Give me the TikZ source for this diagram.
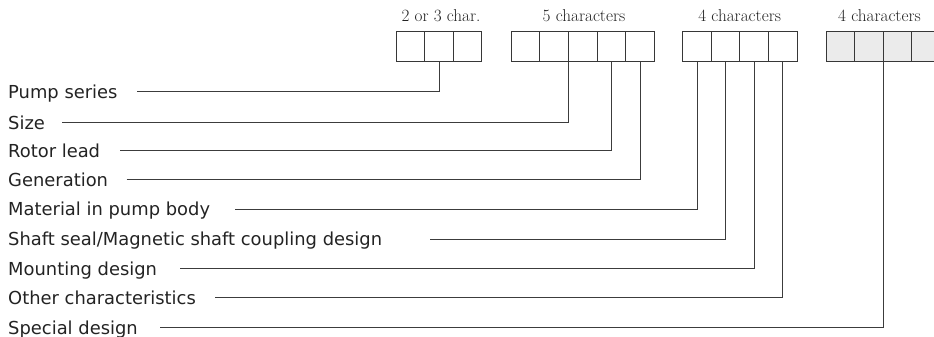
\documentclass[tikz,border=0pt]{standalone}
\usepackage{fontspec}
\newfontfamily\labfont{DejaVu Sans}
\definecolor{ink}{RGB}{35,35,35}
\definecolor{boxline}{RGB}{55,55,55}
\definecolor{wire}{RGB}{60,60,60}
\definecolor{shade}{RGB}{235,235,235}
\begin{document}
\begin{tikzpicture}[x=1pt,y=-1pt,
  cell/.style={draw=boxline,line width=0.9pt,minimum width=28.6pt,minimum height=30.7pt,inner sep=0pt,outer sep=0pt},
  grey/.style={cell,fill=shade},
  toplab/.style={anchor=base,inner sep=0pt,text=ink,font=\fontsize{17.2}{20}\selectfont},
  lab/.style={anchor=base west,inner sep=0pt,text=ink,font=\labfont\fontsize{17.9}{20}\selectfont},
  wireline/.style={draw=wire,line width=0.8pt}]
\useasboundingbox (0,0) rectangle (934,337);
% group 1
\node[cell] (b11) at (410.3,46.35) {};
\node[cell] (b12) at (438.9,46.35) {};
\node[cell] (b13) at (467.5,46.35) {};
% group 2
\node[cell] (b21) at (525.6,46.35) {};
\node[cell] (b22) at (554.2,46.35) {};
\node[cell] (b23) at (582.8,46.35) {};
\node[cell] (b24) at (611.4,46.35) {};
\node[cell] (b25) at (640.0,46.35) {};
% group 3
\node[cell] (b31) at (697.0,46.35) {};
\node[cell] (b32) at (725.6,46.35) {};
\node[cell] (b33) at (754.2,46.35) {};
\node[cell] (b34) at (782.8,46.35) {};
% group 4
\node[grey] (b41) at (840.3,46.35) {};
\node[grey] (b42) at (868.9,46.35) {};
\node[grey] (b43) at (897.5,46.35) {};
\node[grey] (b44) at (926.1,46.35) {};
% top labels
\node[toplab] (t1) at (441,21.7) {2 or 3 char.};
\node[toplab] (t2) at (584,21.7) {5 characters};
\node[toplab] (t3) at (739.7,21.7) {4 characters};
\node[toplab] (t4) at (879.5,21.7) {4 characters};
% left labels
\node[lab] (l1) at (8,98.4) {Pump series};
\node[lab] (l2) at (8,129.2) {Size};
\node[lab] (l3) at (8,157.0) {Rotor lead};
\node[lab] (l4) at (8,186.2) {Generation};
\node[lab] (l5) at (8,215.7) {Material in pump body};
\node[lab] (l6) at (8,245.7) {Shaft seal/Magnetic shaft coupling design};
\node[lab] (l7) at (8,275.4) {Mounting design};
\node[lab] (l8) at (8,304.0) {Other characteristics};
\node[lab] (l9) at (8,334.4) {Special design};
% connector starts
\coordinate (s1) at (137.3,91.7);
\coordinate (s2) at (62.3,122.5);
\coordinate (s3) at (120,150.3);
\coordinate (s4) at (126.7,179.5);
\coordinate (s5) at (235,209);
\coordinate (s6) at (430,239);
\coordinate (s7) at (180,268.7);
\coordinate (s8) at (215,297.3);
\coordinate (s9) at (160,327.7);
% connectors
\draw[wireline] (s1) -| (b12.south);
\draw[wireline] (s2) -| (b22.south east);
\draw[wireline] (s3) -| (b24.south);
\draw[wireline] (s4) -| (b25.south);
\draw[wireline] (s5) -| (b31.south);
\draw[wireline] (s6) -| (b32.south);
\draw[wireline] (s7) -| (b33.south);
\draw[wireline] (s8) -| (b34.south);
\draw[wireline] (s9) -| (b42.south east);
\end{tikzpicture}
\end{document}
